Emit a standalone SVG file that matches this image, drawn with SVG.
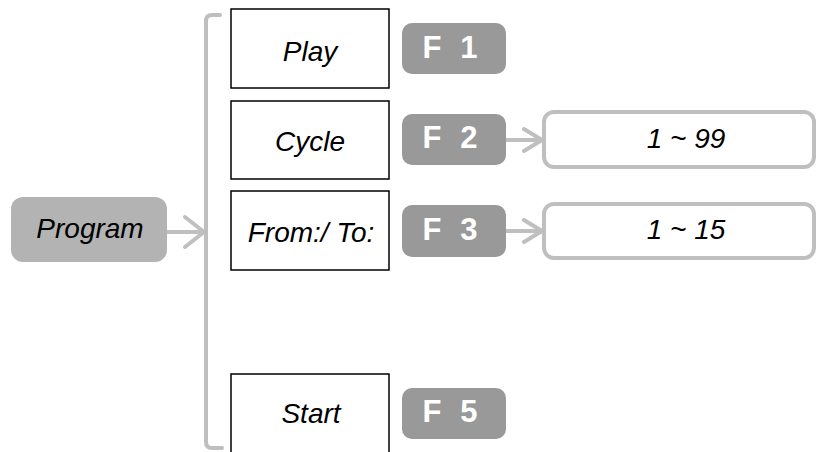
<svg xmlns="http://www.w3.org/2000/svg" width="816" height="452" viewBox="0 0 816 452">
<defs>
<style>
.lbl{font-family:"Liberation Sans",Arial,sans-serif;font-style:italic;font-size:28px;fill:#000;text-anchor:middle}
.box{fill:#fff;stroke:#000;stroke-width:1.5}
.fk{fill:#999999}
.fkt{font-family:"Liberation Sans",Arial,sans-serif;font-weight:bold;font-size:31px;fill:#fff;text-anchor:middle;word-spacing:10px}
.val{fill:#fff;stroke:#bfbfbf;stroke-width:4}
.con{fill:none;stroke:#bfbfbf;stroke-width:4;stroke-linecap:round;stroke-linejoin:round}
</style>
</defs>
<rect width="816" height="452" fill="#fff"/>
<g id="connectors">
<path class="con" d="M220,15 H212 Q206,15 206,21 V442 Q206,448 212,448 H222"/>
<path class="con" d="M167,232 H204 M185,217 L204,232 L185,247"/>
<path class="con" d="M506,140 H542 M524,129 L542,140 L524,151"/>
<path class="con" d="M506,231 H542 M524,220 L542,231 L524,242"/>
</g>
<g id="program">
<rect x="11" y="197" width="156" height="65" rx="12" fill="#b3b3b3"/>
<text class="lbl" x="90" y="238">Program</text>
</g>
<g id="play">
<rect class="box" x="231" y="9" width="158" height="79"/>
<text class="lbl" x="310" y="61">Play</text>
</g>
<g id="cycle">
<rect class="box" x="231" y="101" width="158" height="78"/>
<text class="lbl" x="310" y="151">Cycle</text>
</g>
<g id="fromto">
<rect class="box" x="231" y="191" width="158" height="79"/>
<text class="lbl" x="311" y="242">From:/ To:</text>
</g>
<g id="start">
<rect class="box" x="231" y="374" width="158" height="90"/>
<text class="lbl" x="311" y="423">Start</text>
</g>
<g id="f1">
<rect class="fk" x="402" y="23" width="104" height="51" rx="10"/>
<text class="fkt" x="450" y="58">F 1</text>
</g>
<g id="f2">
<rect class="fk" x="402" y="114" width="104" height="51" rx="10"/>
<text class="fkt" x="450" y="148">F 2</text>
</g>
<g id="f3">
<rect class="fk" x="402" y="205" width="104" height="52" rx="10"/>
<text class="fkt" x="450" y="240">F 3</text>
</g>
<g id="f5">
<rect class="fk" x="402" y="388" width="104" height="51" rx="10"/>
<text class="fkt" x="450" y="422">F 5</text>
</g>
<g id="val99">
<rect class="val" x="544" y="112" width="270" height="55" rx="10"/>
<text class="lbl" x="686" y="148">1 ~ 99</text>
</g>
<g id="val15">
<rect class="val" x="544" y="204" width="270" height="54" rx="10"/>
<text class="lbl" x="686" y="239">1 ~ 15</text>
</g>
</svg>
